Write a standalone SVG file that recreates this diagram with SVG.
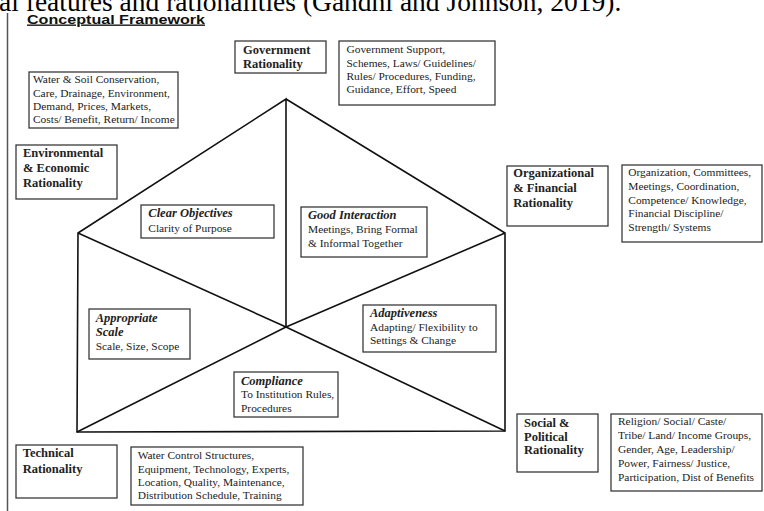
<svg xmlns="http://www.w3.org/2000/svg" width="764" height="511" viewBox="0 0 764 511">
<style>
.box{fill:#fff;stroke:#3a3a3a;stroke-width:1.3}
.t{font-family:"Liberation Serif","Times New Roman",serif;font-size:11.4px;fill:#222}
.b{font-weight:bold;font-size:12.5px}
.bi{font-weight:bold;font-style:italic;font-size:12.5px}
.ln{stroke:#111;stroke-width:1.6;fill:none;stroke-linejoin:miter}
</style>
<rect width="764" height="511" fill="#fff"/>
<text x="-1" y="10.5" style="font-family:'Liberation Serif','Times New Roman',serif;font-size:27.5px;fill:#000">al features and rationalities (Gandhi and Johnson, 2019).</text>
<line x1="7.5" y1="13" x2="7.5" y2="511" stroke="#555" stroke-width="1.5"/>
<text x="27" y="23.5" textLength="178" lengthAdjust="spacingAndGlyphs" style="font-family:'Liberation Sans',Arial,sans-serif;font-weight:bold;font-size:13.5px;fill:#111;text-decoration:underline">Conceptual Framework</text>

<g id="connectors">
<polyline class="ln" points="286,327 286,99 78,233 77,432 505,431 505,233 286,99"/>
<polyline class="ln" points="78,233 286,327 505,431"/>
<polyline class="ln" points="505,233 286,327 77,432"/>
</g>

<g id="gov-rationality">
<rect class="box" x="235" y="41" width="91" height="32"/>
<text class="t b" x="243" y="54">Government</text>
<text class="t b" x="243" y="67.7">Rationality</text>
</g>
<g id="gov-factors">
<rect class="box" x="339" y="41" width="156" height="64"/>
<text class="t" x="346.5" y="53.3">Government Support,</text>
<text class="t" x="346.5" y="66.7">Schemes, Laws/ Guidelines/</text>
<text class="t" x="346.5" y="80">Rules/ Procedures, Funding,</text>
<text class="t" x="346.5" y="93.3">Guidance, Effort, Speed</text>
</g>
<g id="env-factors">
<rect class="box" x="29" y="72" width="149" height="56"/>
<text class="t" x="33" y="83.3">Water &amp; Soil Conservation,</text>
<text class="t" x="33" y="96.7">Care, Drainage, Environment,</text>
<text class="t" x="33" y="110">Demand, Prices, Markets,</text>
<text class="t" x="33" y="123.3">Costs/ Benefit, Return/ Income</text>
</g>
<g id="env-rationality">
<rect class="box" x="16" y="145" width="101" height="54"/>
<text class="t b" x="23" y="157.3">Environmental</text>
<text class="t b" x="23" y="172.3">&amp; Economic</text>
<text class="t b" x="23" y="187.3">Rationality</text>
</g>
<g id="clear-objectives">
<rect class="box" x="141" y="205" width="133" height="33"/>
<text class="t bi" x="148.3" y="217.3">Clear Objectives</text>
<text class="t" x="148.3" y="231.7">Clarity of Purpose</text>
</g>
<g id="good-interaction">
<rect class="box" x="301" y="207" width="126" height="50"/>
<text class="t bi" x="308" y="219.3">Good Interaction</text>
<text class="t" x="308" y="233.3">Meetings, Bring Formal</text>
<text class="t" x="308" y="246.7">&amp; Informal Together</text>
</g>
<g id="org-rationality">
<rect class="box" x="507" y="166" width="101" height="60"/>
<text class="t b" x="513.3" y="177.3">Organizational</text>
<text class="t b" x="513.3" y="192.3">&amp; Financial</text>
<text class="t b" x="513.3" y="207.3">Rationality</text>
</g>
<g id="org-factors">
<rect class="box" x="622" y="165" width="140" height="77"/>
<text class="t" x="628.3" y="176">Organization, Committees,</text>
<text class="t" x="628.3" y="190">Meetings, Coordination,</text>
<text class="t" x="628.3" y="203.5">Competence/ Knowledge,</text>
<text class="t" x="628.3" y="217">Financial Discipline/</text>
<text class="t" x="628.3" y="230.7">Strength/ Systems</text>
</g>
<g id="appropriate-scale">
<rect class="box" x="89" y="309" width="101" height="50"/>
<text class="t bi" x="95.7" y="321.7">Appropriate</text>
<text class="t bi" x="95.7" y="336">Scale</text>
<text class="t" x="95.7" y="350">Scale, Size, Scope</text>
</g>
<g id="adaptiveness">
<rect class="box" x="363" y="305" width="133" height="47"/>
<text class="t bi" x="370" y="316.7">Adaptiveness</text>
<text class="t" x="370" y="330.7">Adapting/ Flexibility to</text>
<text class="t" x="370" y="344.3">Settings &amp; Change</text>
</g>
<g id="compliance">
<rect class="box" x="234" y="372" width="104" height="45"/>
<text class="t bi" x="241" y="385">Compliance</text>
<text class="t" x="241" y="398.3">To Institution Rules,</text>
<text class="t" x="241" y="411.7">Procedures</text>
</g>
<g id="social-rationality">
<rect class="box" x="517" y="414" width="81" height="58"/>
<text class="t b" x="524" y="427.3">Social &amp;</text>
<text class="t b" x="524" y="440.7">Political</text>
<text class="t b" x="524" y="454">Rationality</text>
</g>
<g id="social-factors">
<rect class="box" x="611" y="414" width="151" height="77"/>
<text class="t" x="618" y="425">Religion/ Social/ Caste/</text>
<text class="t" x="618" y="439.3">Tribe/ Land/ Income Groups,</text>
<text class="t" x="618" y="453.3">Gender, Age, Leadership/</text>
<text class="t" x="618" y="467.3">Power, Fairness/ Justice,</text>
<text class="t" x="618" y="481">Participation, Dist of Benefits</text>
</g>
<g id="tech-rationality">
<rect class="box" x="16" y="445" width="101" height="53"/>
<text class="t b" x="22.7" y="457.3">Technical</text>
<text class="t b" x="22.7" y="472.7">Rationality</text>
</g>
<g id="tech-factors">
<rect class="box" x="131" y="447" width="172" height="58"/>
<text class="t" x="137.7" y="459.3">Water Control Structures,</text>
<text class="t" x="137.7" y="472.7">Equipment, Technology, Experts,</text>
<text class="t" x="137.7" y="486">Location, Quality, Maintenance,</text>
<text class="t" x="137.7" y="499.3">Distribution Schedule, Training</text>
</g>
</svg>
